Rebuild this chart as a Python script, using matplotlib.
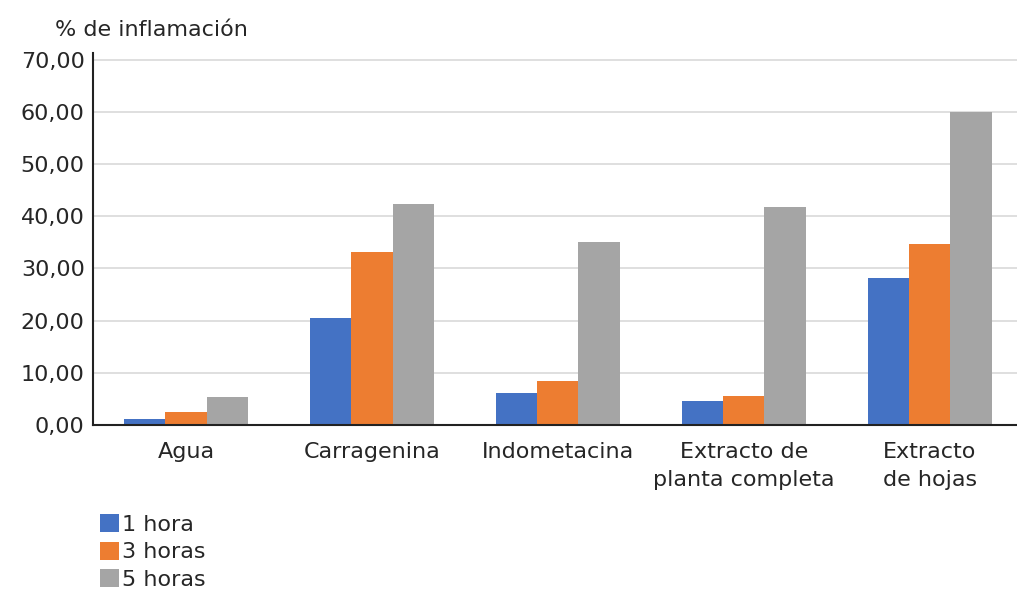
import numpy as np
import matplotlib
matplotlib.use('Agg')
import matplotlib.pyplot as plt

# Data
categories = ['Agua', 'Carragenina', 'Indometacina',
              'Extracto de\nplanta completa', 'Extracto\nde hojas']
series_names = ['1 hora', '3 horas', '5 horas']
hora_1 = [1.2, 20.5, 6.2, 4.6, 28.2]
horas_3 = [2.4, 33.2, 8.5, 5.5, 34.7]
horas_5 = [5.4, 42.4, 35.1, 41.7, 59.9]
yticks = [0, 10, 20, 30, 40, 50, 60, 70]

colors = ['#4472C4', '#ED7D31', '#A5A5A5']
text_color = '#262626'
fs = 16

fig = plt.figure(figsize=(10.17, 5.95), dpi=100)
ax = fig.add_axes([93 / 1017, 1 - 425 / 595, 1 - 93 / 1017, (425 - 53) / 595])

x = np.arange(len(categories))
width = 0.222
for i, (vals, name) in enumerate(zip([hora_1, horas_3, horas_5], series_names)):
	ax.bar(x + (i - 1) * width, vals, width, color=colors[i], label=name, zorder=2)

ax.set_xlim(-0.5, 4.47)
ax.set_ylim(0, 71.3)
ax.set_yticks(yticks)
ax.set_yticklabels(['%d,00' % v for v in yticks], fontsize=fs, color=text_color)
ax.set_xticks(x)
ax.set_xticklabels(categories, fontsize=fs, color=text_color, linespacing=1.5, va='top')
ax.tick_params(axis='both', length=0, pad=6)
ax.tick_params(axis='x', pad=12)

ax.yaxis.grid(True, color='#d9d9d9', linewidth=1.2, zorder=0)
ax.set_axisbelow(True)
for side in ['top', 'right']:
	ax.spines[side].set_visible(False)
ax.spines['left'].set_color('#222222')
ax.spines['bottom'].set_color('#222222')
ax.spines['left'].set_linewidth(1.5)
ax.spines['bottom'].set_linewidth(1.5)

fig.text(55 / 1017, 1 - 30 / 595, '% de inflamación', fontsize=fs, color=text_color,
         va='center', ha='left')

fig.legend(loc='upper left', bbox_to_anchor=(89 / 1017, 1 - 503 / 595), frameon=False,
           fontsize=fs, handlelength=0.85, handleheight=0.85, handletextpad=0.15,
           labelspacing=0.32, borderpad=0, labelcolor=text_color)

fig.savefig('out.png', dpi=100)
